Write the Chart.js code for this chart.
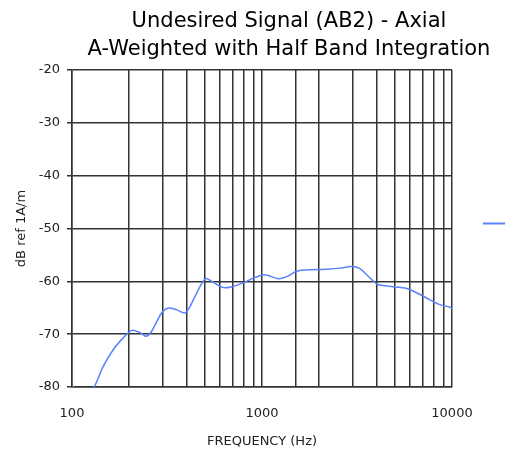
<!DOCTYPE html>
<html>
<head>
<meta charset="utf-8">
<script src="https://cdn.jsdelivr.net/npm/chart.js@4"></script>
<style>
  html, body { margin: 0; padding: 0; background: #fff; }
  #wrap { width: 505px; height: 454px; }
</style>
</head>
<body>
<div id="wrap"><canvas id="grafico"></canvas></div>
<script>
// valores
const titulo = ["Undesired Signal (AB2) - Axial", "A-Weighted with Half Band Integration"];
const frequencias = [100, 104, 112, 122, 131, 146, 165, 186, 206, 228, 245, 262, 296, 321, 356, 393, 418, 462, 505, 544, 613, 679, 797, 900, 1016, 1080, 1218, 1349, 1553, 2190, 2574, 2966, 3280, 3556, 4017, 4350, 5212, 5884, 6786, 7658, 8641, 9755, 10000];
const niveis = [-80, -80.2, -81.5, -81.5, -80, -76.1, -72.9, -70.7, -69.3, -69.7, -70.4, -69.5, -66.0, -65.05, -65.4, -66.0, -64.75, -61.6, -59.5, -60.0, -61.1, -61.1, -60.3, -59.4, -58.75, -58.9, -59.5, -59.1, -58.0, -57.7, -57.5, -57.2, -57.6, -58.75, -60.5, -60.8, -61.1, -61.45, -62.5, -63.5, -64.4, -64.9, -65.1];
const rotulosX = [100, 1000, 10000];
const limitesY = [-80, -20];

const corLinha = "#5a82ff";
const corGrade = "#333";
const fonteEixo = { family: "DejaVu Sans", size: 13 };

/* ------------------------------
   Título e traço da legenda
-------------------------------*/
const extras = {
    id: "extras",
    afterDraw(chart) {
        const ctx = chart.ctx;
        ctx.save();
        ctx.fillStyle = "#000";
        ctx.font = "21px 'DejaVu Sans'";
        ctx.textAlign = "center";
        ctx.textBaseline = "alphabetic";
        ctx.fillText(titulo[0], 289, 27);
        ctx.fillText(titulo[1], 289, 55);

        // legenda: só o traço da série
        const y = (chart.chartArea.top + chart.chartArea.bottom) / 2 - 5;
        ctx.strokeStyle = chart.data.datasets[0].borderColor;
        ctx.lineWidth = 2;
        ctx.beginPath();
        ctx.moveTo(chart.chartArea.right + 31, y);
        ctx.lineTo(chart.width, y);
        ctx.stroke();
        ctx.restore();
    }
};

new Chart(document.getElementById("grafico"), {
    type: "line",
    data: {
        datasets: [{
            label: "Axial",
            data: frequencias.map((f, i) => ({ x: f, y: niveis[i] })),
            borderColor: corLinha,
            borderWidth: 1.5,
            pointRadius: 0,
            tension: 0.3,
            fill: false
        }]
    },
    options: {
        responsive: true,
        maintainAspectRatio: false,
        animation: false,
        layout: { padding: { top: 70, right: 53, bottom: 0, left: 0 } },
        plugins: {
            legend: { display: false },
            title: { display: false },
            tooltip: { enabled: false }
        },
        scales: {
            x: {
                type: "logarithmic",
                min: rotulosX[0],
                max: rotulosX[rotulosX.length - 1],
                afterFit: s => { s.height = 67; },
                grid: { color: corGrade, lineWidth: 1.5, drawTicks: false },
                border: { color: corGrade, width: 1.5 },
                ticks: {
                    autoSkip: false,
                    maxRotation: 0,
                    padding: 19,
                    color: "#222",
                    font: fonteEixo,
                    callback: v => rotulosX.includes(v) ? String(v) : ""
                },
                title: {
                    display: true,
                    text: "FREQUENCY (Hz)",
                    color: "#222",
                    font: fonteEixo,
                    padding: { top: 0, bottom: 5 }
                }
            },
            y: {
                min: limitesY[0],
                max: limitesY[1],
                afterFit: s => { s.width = 72; },
                grid: { color: corGrade, lineWidth: 1.5, tickLength: 5 },
                border: { color: corGrade, width: 1.5 },
                ticks: {
                    stepSize: 10,
                    padding: 7,
                    color: "#222",
                    font: fonteEixo
                },
                title: {
                    display: true,
                    text: "dB ref 1A/m",
                    color: "#222",
                    font: fonteEixo,
                    padding: { top: 14, bottom: 0 }
                }
            }
        }
    },
    plugins: [extras]
});
</script>
</body>
</html>
